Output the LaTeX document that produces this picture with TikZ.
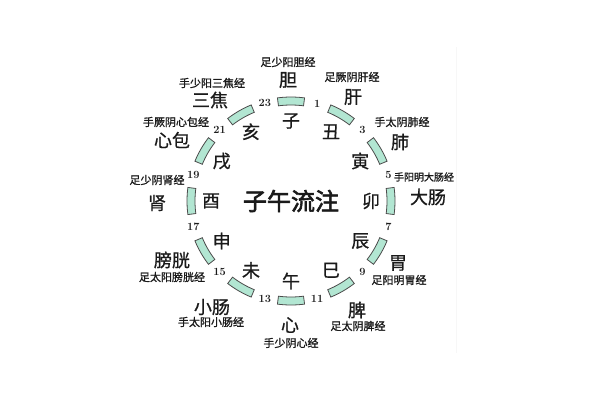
\documentclass[tikz,border=0pt]{standalone}
\usepackage{fontspec}
\newfontfamily\cjk[FakeBold=0.8]{Noto Sans CJK SC}
\newfontfamily\cjksmall[FakeBold=1.2]{Noto Sans CJK SC}
\newfontfamily\cjkbold[FakeBold=2.5]{Noto Sans CJK SC}
\usetikzlibrary{calc}
\definecolor{segfill}{HTML}{B2E6D2}
\definecolor{ink}{HTML}{1A1A1A}

\begin{document}
\begin{tikzpicture}[x=1pt,y=1pt,
    seg/.style={fill=segfill,draw=black!70,line width=0.8pt},
    branch/.style={font=\cjk\fontsize{18}{18}\selectfont,text=ink,inner sep=0pt},
    organ/.style={font=\cjk\fontsize{18}{18}\selectfont,text=ink,inner sep=0pt},
    channel/.style={font=\cjksmall\fontsize{11}{11}\selectfont,text=ink,inner sep=0pt},
    hour/.style={font=\bfseries\fontsize{11}{11}\selectfont,text=ink,inner sep=0pt}]

  \useasboundingbox (-291,-199) rectangle (309,201);
  \fill[white] (-291,-199) rectangle (309,201);

  % faint edge of the scan
  \draw[black!3,line width=0.6pt] (165,154) -- (165,-152);

  \def\ri{96}
  \def\ro{104}
  \def\ha{7.5}

  \coordinate (c) at (0,0);
  \node[font=\cjkbold\fontsize{24}{24}\selectfont,text=ink,inner sep=0pt] (title) at (c) {子午流注};

  % ring of twelve segments
  \foreach \k in {0,...,11} {
    \pgfmathsetmacro{\a}{90-30*\k}
    \draw[seg] ({\a-\ha}:\ri pt) arc[start angle={\a-\ha},end angle={\a+\ha},radius=\ri pt]
      -- ({\a+\ha}:\ro pt) arc[start angle={\a+\ha},end angle={\a-\ha},radius=\ro pt] -- cycle;
  }

  % odd hours in the gaps
  \foreach \n in {1,3,...,23} {
    \pgfmathsetmacro{\a}{90-15*\n}
    \node[hour] (h\n) at (\a:101pt) {\n};
  }

  % earthly branches
  \foreach \t [count=\k from 0] in {子,丑,寅,卯,辰,巳,午,未,申,酉,戌,亥} {
    \pgfmathsetmacro{\a}{90-30*\k}
    \node[branch] (b\k) at (\a:80pt) {\t};
  }

  % organs
  \foreach \x/\y/\t [count=\j] in {%
    -3/121/胆,%
    62/104/肝,%
    109/59/肺,%
    137/4/大肠,%
    107/-62/胃,%
    66/-109/脾,%
    -1/-124/心,%
    -79/-106/小肠,%
    -119/-59/膀胱,%
    -134/-2/肾,%
    -119/61/心包,%
    -81/101/三焦%
  } {
    \node[organ] (o\j) at (\x,\y) {\t};
  }

  % channels
  \foreach \x/\y/\t [count=\j] in {%
    -3/139/足少阳胆经,%
    61/124/足厥阴肝经,%
    111/79/手太阴肺经,%
    108/-79/足阳明胃经,%
    67/-125/足太阴脾经,%
    0/-142/手少阴心经,%
    -80/-121/手太阳小肠经,%
    -119/-76/足太阳膀胱经,%
    -134/21/足少阴肾经,%
    -115/79/手厥阴心包经,%
    -79/118/手少阳三焦经%
  } {
    \node[channel] (m\j) at (\x,\y) {\t};
  }
  \node[channel,font=\cjksmall\fontsize{10}{10}\selectfont] (m12) at (133,24) {手阳明大肠经};

\end{tikzpicture}
\end{document}
